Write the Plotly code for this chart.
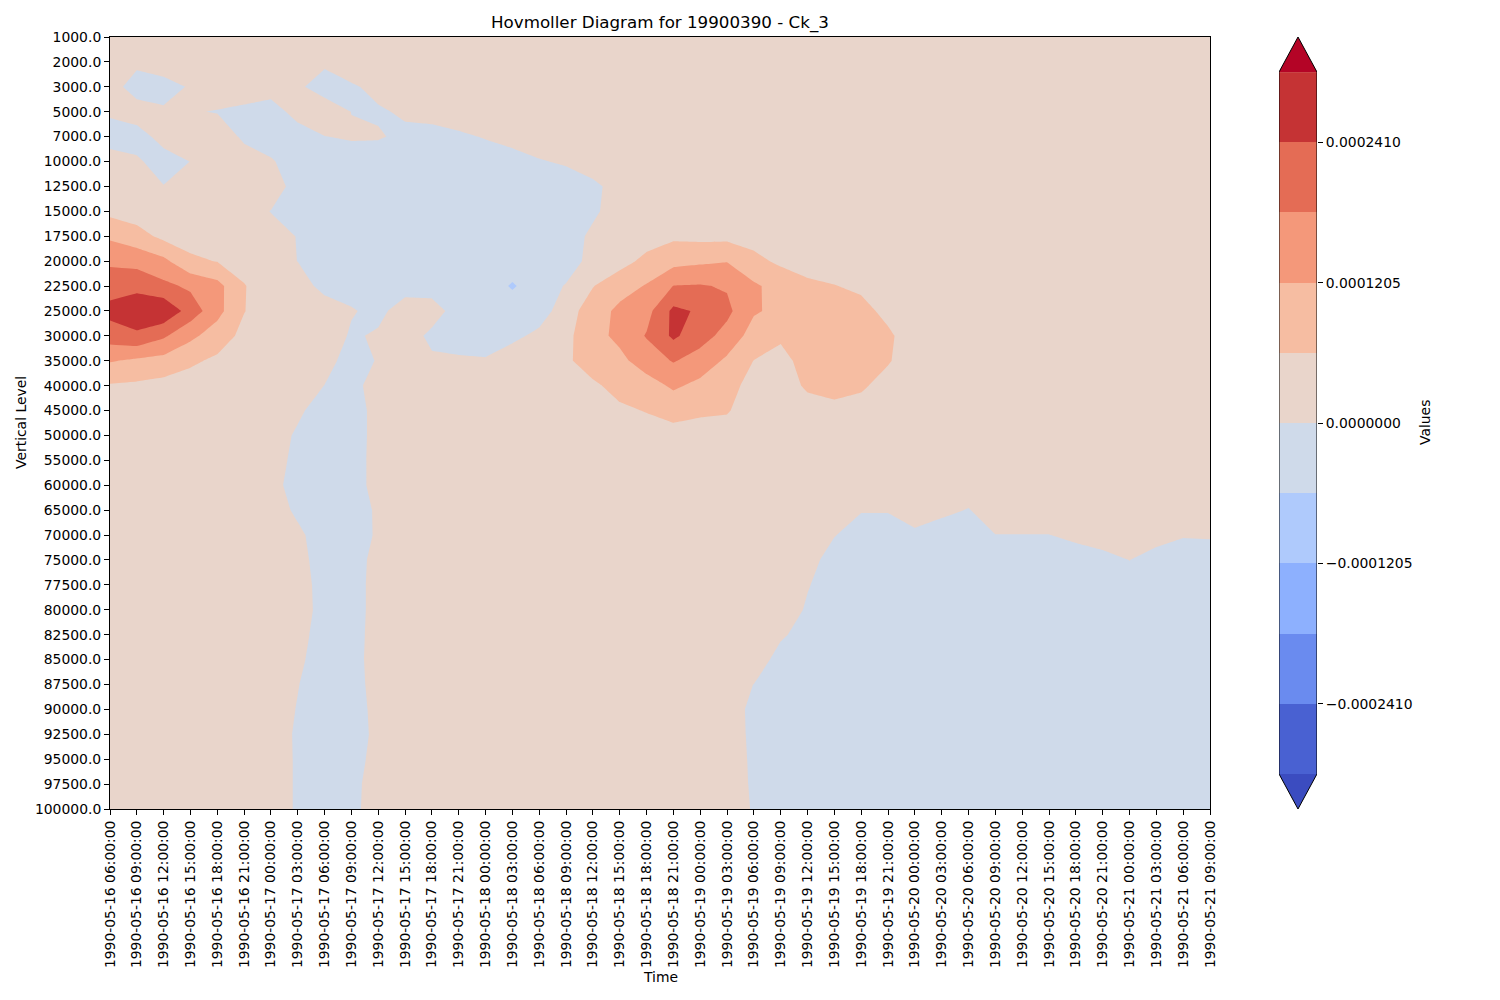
import plotly.graph_objects as go

# ---------------- data ----------------
time_labels = [
    "1990-05-16 06:00:00", "1990-05-16 09:00:00", "1990-05-16 12:00:00", "1990-05-16 15:00:00",
    "1990-05-16 18:00:00", "1990-05-16 21:00:00",
    "1990-05-17 00:00:00", "1990-05-17 03:00:00", "1990-05-17 06:00:00", "1990-05-17 09:00:00",
    "1990-05-17 12:00:00", "1990-05-17 15:00:00", "1990-05-17 18:00:00", "1990-05-17 21:00:00",
    "1990-05-18 00:00:00", "1990-05-18 03:00:00", "1990-05-18 06:00:00", "1990-05-18 09:00:00",
    "1990-05-18 12:00:00", "1990-05-18 15:00:00", "1990-05-18 18:00:00", "1990-05-18 21:00:00",
    "1990-05-19 00:00:00", "1990-05-19 03:00:00", "1990-05-19 06:00:00", "1990-05-19 09:00:00",
    "1990-05-19 12:00:00", "1990-05-19 15:00:00", "1990-05-19 18:00:00", "1990-05-19 21:00:00",
    "1990-05-20 00:00:00", "1990-05-20 03:00:00", "1990-05-20 06:00:00", "1990-05-20 09:00:00",
    "1990-05-20 12:00:00", "1990-05-20 15:00:00", "1990-05-20 18:00:00", "1990-05-20 21:00:00",
    "1990-05-21 00:00:00", "1990-05-21 03:00:00", "1990-05-21 06:00:00", "1990-05-21 09:00:00",
]

vertical_levels = [1000.0, 2000.0, 3000.0, 5000.0, 7000.0, 10000.0, 12500.0, 15000.0, 17500.0,
                   20000.0, 22500.0, 25000.0, 30000.0, 35000.0, 40000.0, 45000.0, 50000.0,
                   55000.0, 60000.0, 65000.0, 70000.0, 75000.0, 77500.0, 80000.0, 82500.0,
                   85000.0, 87500.0, 90000.0, 92500.0, 95000.0, 97500.0, 100000.0]
level_labels = [f"{v:.1f}" for v in vertical_levels]

VALUE_UNIT = 1e-4  # values below are given in units of 1e-4
values_e4 = [
    [.3, .3, .3, .3, .3, .3, .3,  .3, .3, .3, .3, .3, .3, .3,  .3, .3, .3, .3, .3, .3, .3,  .3, .3, .3, .3, .3, .3, .3,  .3, .3, .3, .3, .3, .3, .3,  .3, .3, .3, .3, .3, .3, .3],
    [.3, .18, .3, .3, .3, .3, .3,  .3, .12, .4, .3, .3, .3, .3,  .3, .3, .3, .3, .3, .3, .3,  .3, .3, .3, .3, .3, .3, .3,  .3, .3, .3, .3, .3, .3, .3,  .3, .3, .3, .3, .3, .3, .3],
    [.33, -.35, -.2, .05, .35, .37, .3,  .11, -.3, -.08, .17, .3, .3, .3,  .3, .3, .3, .3, .3, .3, .3,  .3, .3, .3, .3, .3, .3, .3,  .3, .3, .3, .3, .3, .3, .3,  .3, .3, .3, .3, .3, .3, .3],
    [.1, .35, .07, .04, -.03, -.15, -.3,  .24, .38, -.01, -.07, .08, .2, .32,  .3, .3, .3, .3, .3, .3, .3,  .3, .3, .3, .3, .3, .3, .3,  .3, .3, .3, .3, .3, .3, .3,  .3, .3, .3, .3, .3, .3, .3],
    [-.3, -.3, .26, .3, .4, -.12, -.3,  -.31, -.01, .065, .052, -.12, -.2, -.1,  .04, .26, .3, .3, .3, .3, .3,  .3, .3, .3, .3, .3, .3, .3,  .3, .3, .3, .3, .3, .3, .3,  .3, .3, .3, .3, .3, .3, .3],
    [.3, .1, -.3, .01, .3, .3, .06,  -.3, -.3, -.3, -.3, -.3, -.3, -.3,  -.3, -.3, -.04, .07, .4, .3, .3,  .3, .3, .3, .3, .3, .3, .3,  .3, .3, .3, .3, .3, .3, .3,  .3, .3, .3, .3, .3, .3, .3],
    [.3, .3, .02, .3, .3, .3, .38,  -.3, -.3, -.3, -.3, -.3, -.3, -.3,  -.3, -.3, -.3, -.3, -.17, .3, .3,  .3, .3, .3, .3, .3, .3, .3,  .3, .3, .3, .3, .3, .3, .3,  .3, .3, .3, .3, .3, .3, .3],
    [.45, .3, .3, .3, .3, .3, -.02,  -.3, -.3, -.3, -.3, -.3, -.3, -.3,  -.3, -.3, -.3, -.3, -.11, .3, .3,  .3, .3, .3, .3, .3, .3, .3,  .3, .3, .3, .3, .3, .3, .3,  .3, .3, .3, .3, .3, .3, .3],
    [1.1, .85, .45, .35, .3, .3, .3,  -.03, -.3, -.3, -.3, -.3, -.3, -.3,  -.3, -.3, -.3, -.3, .13, .3, .35,  .5, .45, .45, .4, .3, .3, .3,  .3, .3, .3, .3, .3, .3, .3,  .3, .3, .3, .3, .3, .3, .3],
    [1.7, 1.6, 1.35, .72, .58, .4, .3,  -.01, -.3, -.3, -.3, -.3, -.3, -.3,  -.3, -.3, -.3, -.3, .21, .4, .75,  1.0, 1.1, 1.18, .75, .5, .4, .35,  .3, .3, .3, .3, .3, .3, .3,  .3, .3, .3, .3, .3, .3, .3],
    [2.15, 2.25, 1.95, 1.7, 1.4, .63, .3,  .45, -.3, -.3, -.3, -.3, -.3, -.3,  -.3, -.66, -.3, .04, .58, .95, 1.25,  1.82, 1.85, 1.75, 1.3, .97, .7, .62,  .5, .3, .3, .3, .3, .3, .3,  .3, .3, .3, .3, .3, .3, .3],
    [2.6, 2.8, 2.9, 2.15, 1.4, .62, .3,  .3, .5, .06, -.2, .36, .3, -.3,  -.3, -.3, -.3, .34, .9, 1.35, 1.6,  2.55, 2.33, 1.95, 1.27, 1.06, .9, .85,  .78, .45, .3, .3, .3, .3, .3,  .3, .3, .3, .3, .3, .3, .3],
    [2.1, 2.3, 1.9, 1.35, .9, .45, .3,  .3, .5, -.1, .1, .32, -.15, -.3,  -.3, -.15, .15, .45, 1.0, 1.35, 1.85,  2.52, 2.05, 1.6, .95, .7, .9, .9,  .85, .7, .3, .3, .3, .3, .3,  .3, .3, .3, .3, .3, .3, .3],
    [1.25, 1.1, 1.0, .7, .5, .3, .3,  .3, .26, -.3, .05, .3, .1, .09,  .05, .35, .3, .5, .9, 1.05, 1.5,  1.85, 1.55, 1.1, .59, .4, .85, .85,  .8, .65, .3, .3, .3, .3, .3,  .3, .3, .3, .3, .3, .3, .3],
    [.55, .5, .4, .35, .3, .3, .3,  .3, -.01, -.3, .4, .3, .3, .3,  .3, .3, .3, .3, .5, .8, .95,  1.3, 1.05, .85, .35, .35, .68, .8,  .68, .4, .3, .3, .3, .3, .3,  .3, .3, .3, .3, .3, .3, .3],
    [.3, .3, .3, .3, .3, .3, .3,  .11, -.3, -.3, .22, .3, .3, .3,  .3, .3, .3, .3, .3, .5, .63,  .8, .7, .65, .3, .3, .4, .45,  .4, .3, .3, .3, .3, .3, .3,  .3, .3, .3, .3, .3, .3, .3],
    [.3, .3, .3, .3, .3, .3, .3,  -.09, -.3, -.3, .22, .3, .3, .3,  .3, .3, .3, .3, .3, .3, .35,  .4, .35, .35, .3, .3, .3, .3,  .3, .3, .3, .3, .3, .3, .3,  .3, .3, .3, .3, .3, .3, .3],
    [.3, .3, .3, .3, .3, .3, .3,  -.19, -.3, -.3, .24, .3, .3, .3,  .3, .3, .3, .3, .3, .3, .3,  .3, .3, .3, .3, .3, .3, .3,  .3, .3, .3, .3, .3, .3, .3,  .3, .3, .3, .3, .3, .3, .3],
    [.3, .3, .3, .3, .3, .3, .3,  -.36, -.3, -.3, .24, .3, .3, .3,  .3, .3, .3, .3, .3, .3, .3,  .3, .3, .3, .3, .3, .3, .3,  .3, .3, .3, .3, .3, .3, .3,  .3, .3, .3, .3, .3, .3, .3],
    [.3, .3, .3, .3, .3, .3, .3,  -.11, -.3, -.3, .09, .3, .3, .3,  .3, .3, .3, .3, .3, .3, .3,  .3, .3, .3, .3, .3, .3, .3,  .04, .04, .3, .14, -.03, .3, .3,  .3, .3, .3, .3, .3, .3, .3],
    [.3, .3, .3, .3, .3, .3, .3,  .12, -.3, -.3, .08, .3, .3, .3,  .3, .3, .3, .3, .3, .3, .3,  .3, .3, .3, .3, .3, .3, .03,  -.3, -.3, -.12, -.3, -.3, -.01, -.01,  -.01, .14, .45, .3, .28, .04, .06],
    [.3, .3, .3, .3, .3, .3, .3,  .22, -.3, -.3, .22, .3, .3, .3,  .3, .3, .3, .3, .3, .3, .3,  .3, .3, .3, .3, .3, .26, -.3,  -.3, -.3, -.3, -.3, -.3, -.3, -.3,  -.3, -.3, -.3, .01, -.3, -.3, -.3],
    [.3, .3, .3, .3, .3, .3, .3,  .34, -.3, -.3, .26, .3, .3, .3,  .3, .3, .3, .3, .3, .3, .3,  .3, .3, .3, .3, .3, .04, -.3,  -.3, -.3, -.3, -.3, -.3, -.3, -.3,  -.3, -.3, -.3, -.3, -.3, -.3, -.3],
    [.3, .3, .3, .3, .3, .3, .3,  .39, -.3, -.3, .26, .3, .3, .3,  .3, .3, .3, .3, .3, .3, .3,  .3, .3, .3, .3, .39, -.08, -.3,  -.3, -.3, -.3, -.3, -.3, -.3, -.3,  -.3, -.3, -.3, -.3, -.3, -.3, -.3],
    [.3, .3, .3, .3, .3, .3, .3,  .23, -.3, -.3, .3, .3, .3, .3,  .3, .3, .3, .3, .3, .3, .3,  .3, .3, .3, .3, .11, -.3, -.3,  -.3, -.3, -.3, -.3, -.3, -.3, -.3,  -.3, -.3, -.3, -.3, -.3, -.3, -.3],
    [.3, .3, .3, .3, .3, .3, .3,  .12, -.3, -.3, .34, .3, .3, .3,  .3, .3, .3, .3, .3, .3, .3,  .3, .3, .3, .45, -.3, -.3, -.3,  -.3, -.3, -.3, -.3, -.3, -.3, -.3,  -.3, -.3, -.3, -.3, -.3, -.3, -.3],
    [.3, .3, .3, .3, .3, .3, .3,  .02, -.3, -.3, .28, .3, .3, .3,  .3, .3, .3, .3, .3, .3, .3,  .3, .3, .3, -.01, -.3, -.3, -.3,  -.3, -.3, -.3, -.3, -.3, -.3, -.3,  -.3, -.3, -.3, -.3, -.3, -.3, -.3],
    [.3, .3, .3, .3, .3, .3, .3,  -.03, -.3, -.3, .2, .3, .3, .3,  .3, .3, .3, .3, .3, .3, .3,  .3, .3, .3, -.15, -.3, -.3, -.3,  -.3, -.3, -.3, -.3, -.3, -.3, -.3,  -.3, -.3, -.3, -.3, -.3, -.3, -.3],
    [.3, .3, .3, .3, .3, .3, .3,  -.08, -.3, -.3, .16, .3, .3, .3,  .3, .3, .3, .3, .3, .3, .3,  .3, .3, .3, -.13, -.3, -.3, -.3,  -.3, -.3, -.3, -.3, -.3, -.3, -.3,  -.3, -.3, -.3, -.3, -.3, -.3, -.3],
    [.3, .3, .3, .3, .3, .3, .3,  -.07, -.3, -.3, .26, .3, .3, .3,  .3, .3, .3, .3, .3, .3, .3,  .3, .3, .3, -.1, -.3, -.3, -.3,  -.3, -.3, -.3, -.3, -.3, -.3, -.3,  -.3, -.3, -.3, -.3, -.3, -.3, -.3],
    [.3, .3, .3, .3, .3, .3, .3,  -.07, -.3, -.3, .47, .3, .3, .3,  .3, .3, .3, .3, .3, .3, .3,  .3, .3, .3, -.08, -.3, -.3, -.3,  -.3, -.3, -.3, -.3, -.3, -.3, -.3,  -.3, -.3, -.3, -.3, -.3, -.3, -.3],
    [.3, .3, .3, .3, .3, .3, .3,  -.07, -.3, -.3, .55, .3, .3, .3,  .3, .3, .3, .3, .3, .3, .3,  .3, .3, .3, -.05, -.3, -.3, -.3,  -.3, -.3, -.3, -.3, -.3, -.3, -.3,  -.3, -.3, -.3, -.3, -.3, -.3, -.3],
]

# contour levels (11 levels, extend both) and colorbar ticks
LEVEL_MIN = -3.0125e-4
LEVEL_MAX = 3.0125e-4
LEVEL_STEP = 0.6025e-4
N_LEVELS = 11
cbar_tick_values = [-2.41e-4, -1.205e-4, 0.0, 1.205e-4, 2.41e-4]
cbar_tick_labels = ["\u22120.0002410", "\u22120.0001205", "0.0000000", "0.0001205", "0.0002410"]

# coolwarm colours: under, 10 bands, over
band_colors = ["#3b4cc0", "#4961d2", "#6a8bef", "#8db0fe", "#afcafc", "#cfdaea",
               "#e9d5cb", "#f6bda2", "#f4987a", "#e46c55", "#c53334", "#b40426"]

# ---------------- helpers ----------------
z = [[v * VALUE_UNIT for v in row] for row in values_e4]
n_col = len(band_colors)
colorscale = []
for k, c in enumerate(band_colors):
    lo = max(0.0, (k - 0.5) / (n_col - 1))
    hi = min(1.0, (k + 0.5) / (n_col - 1))
    colorscale.append([lo, c])
    colorscale.append([hi, c])

W, H = 1500, 1000
ML, MR, MT, MB = 110, 183, 37, 191
PW = W - ML - MR
PH = H - MT - MB


def px_x(px):
    return (px - ML) / PW


def px_y(py):
    return (H - MB - py) / PH


main_x_end = px_x(1210)
cb_x0 = px_x(1279)
FONT = "DejaVu Sans"
TICK_SIZE = 13.9

fig = go.Figure()

fig.add_trace(go.Contour(
    x=list(range(len(time_labels))),
    y=list(range(len(vertical_levels))),
    z=z,
    colorscale=colorscale,
    autocontour=False,
    contours=dict(start=LEVEL_MIN, end=LEVEL_MAX, size=LEVEL_STEP,
                  coloring="fill", showlines=False),
    line=dict(width=0, smoothing=0),
    showscale=False,
    hoverinfo="skip",
    xaxis="x", yaxis="y",
))

# ---- custom colorbar (matplotlib style with extension triangles) ----
level_edges = [LEVEL_MIN + k * LEVEL_STEP for k in range(N_LEVELS)]
ext = 0.5 * LEVEL_STEP
fig.add_trace(go.Heatmap(
    x=[0, 1], y=level_edges,
    z=[[k + 1] for k in range(N_LEVELS - 1)],
    zmin=0, zmax=n_col - 1, colorscale=colorscale, showscale=False,
    hoverinfo="skip", xaxis="x2", yaxis="y2",
))
fig.add_trace(go.Scatter(
    x=[0, 1, 0.5, 0], y=[LEVEL_MAX, LEVEL_MAX, LEVEL_MAX + ext, LEVEL_MAX],
    mode="lines", fill="toself", fillcolor=band_colors[-1], line=dict(width=0),
    hoverinfo="skip", showlegend=False, xaxis="x2", yaxis="y2",
))
fig.add_trace(go.Scatter(
    x=[0, 1, 0.5, 0], y=[LEVEL_MIN, LEVEL_MIN, LEVEL_MIN - ext, LEVEL_MIN],
    mode="lines", fill="toself", fillcolor=band_colors[0], line=dict(width=0),
    hoverinfo="skip", showlegend=False, xaxis="x2", yaxis="y2",
))
fig.add_trace(go.Scatter(
    x=[0, 0.5, 1, 1, 0.5, 0, 0],
    y=[LEVEL_MIN, LEVEL_MIN - ext, LEVEL_MIN, LEVEL_MAX, LEVEL_MAX + ext, LEVEL_MAX, LEVEL_MIN],
    mode="lines", line=dict(color="black", width=1),
    hoverinfo="skip", showlegend=False, xaxis="x2", yaxis="y2",
))

tickfont = dict(family=FONT, size=TICK_SIZE, color="black")
fig.update_layout(
    template="none",
    width=W, height=H,
    margin=dict(l=ML, r=MR, t=MT, b=MB, pad=0),
    paper_bgcolor="white", plot_bgcolor="white",
    showlegend=False,
    font=dict(family=FONT, size=TICK_SIZE, color="black"),
    xaxis=dict(
        domain=[0, main_x_end], range=[0, len(time_labels) - 1],
        tickmode="array", tickvals=list(range(len(time_labels))), ticktext=time_labels,
        tickangle=-90, ticks="outside", ticklen=5, tickwidth=1, tickcolor="black",
        showline=True, mirror=True, linecolor="black", linewidth=1,
        showgrid=False, zeroline=False, automargin=False, tickfont=tickfont,
        anchor="y",
    ),
    yaxis=dict(
        domain=[0, 1], range=[len(vertical_levels) - 1, 0],
        tickmode="array", tickvals=list(range(len(vertical_levels))), ticktext=level_labels,
        ticks="outside", ticklen=5, tickwidth=1, tickcolor="black",
        showline=True, mirror=True, linecolor="black", linewidth=1,
        showgrid=False, zeroline=False, automargin=False, tickfont=tickfont,
        anchor="x",
    ),
    xaxis2=dict(
        domain=[cb_x0, 1], range=[0, 1], visible=False, anchor="y2", fixedrange=True,
    ),
    yaxis2=dict(
        domain=[0, 1], range=[LEVEL_MIN - ext, LEVEL_MAX + ext], anchor="x2", side="right",
        tickmode="array", tickvals=cbar_tick_values, ticktext=cbar_tick_labels,
        ticks="outside", ticklen=5, tickwidth=1, tickcolor="black",
        showline=False, showgrid=False, zeroline=False, automargin=False, tickfont=tickfont,
    ),
    annotations=[
        dict(text="Hovmoller Diagram for 19900390 - Ck_3", xref="paper", yref="paper",
             x=main_x_end / 2, y=px_y(23), xanchor="center", yanchor="middle",
             showarrow=False, font=dict(family=FONT, size=16.7, color="black")),
        dict(text="Time", xref="paper", yref="paper",
             x=main_x_end / 2, y=px_y(977), xanchor="center", yanchor="middle",
             showarrow=False, font=dict(family=FONT, size=TICK_SIZE, color="black")),
        dict(text="Vertical Level", xref="paper", yref="paper", textangle=-90,
             x=px_x(21), y=0.5, xanchor="center", yanchor="middle",
             showarrow=False, font=dict(family=FONT, size=TICK_SIZE, color="black")),
        dict(text="Values", xref="paper", yref="paper", textangle=-90,
             x=px_x(1425), y=0.5, xanchor="center", yanchor="middle",
             showarrow=False, font=dict(family=FONT, size=TICK_SIZE, color="black")),
    ],
)

fig.write_html("out.html")
